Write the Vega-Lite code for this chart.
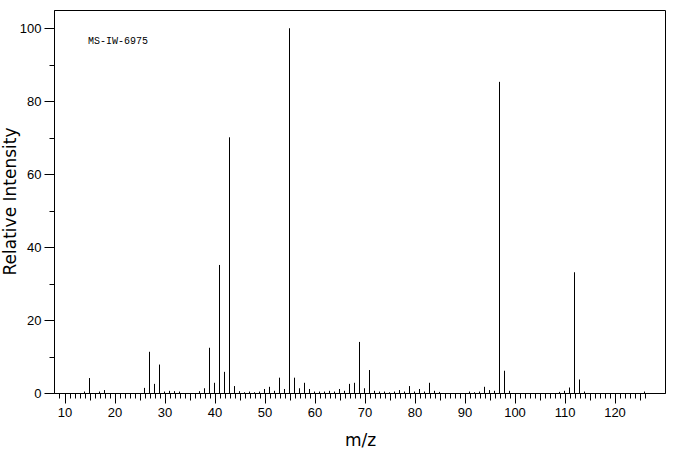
{
  "$schema": "https://vega.github.io/schema/vega-lite/v6.json",
  "width": 611,
  "height": 383,
  "autosize": {"type": "none"},
  "padding": {"left": 54, "top": 10, "right": 11, "bottom": 62},
  "background": "white",
  "config": {
    "view": {"stroke": "black", "strokeWidth": 1},
    "axis": {"grid": false, "domainColor": "black", "tickColor": "black", "labelColor": "black", "titleColor": "black", "labelFont": "Liberation Sans", "titleFont": "DejaVu Sans", "labelFontSize": 13, "titleFontSize": 17, "titleFontWeight": "normal", "domainWidth": 1, "tickWidth": 1}
  },
  "data": {"values": [
    {"mz": 14, "intensity": 0.4}, {"mz": 15, "intensity": 4.1}, {"mz": 17, "intensity": 0.4}, {"mz": 18, "intensity": 0.8},
    {"mz": 26, "intensity": 1.4}, {"mz": 27, "intensity": 11.3}, {"mz": 28, "intensity": 2.5}, {"mz": 29, "intensity": 7.8},
    {"mz": 30, "intensity": 0.4}, {"mz": 31, "intensity": 0.6}, {"mz": 32, "intensity": 0.5}, {"mz": 33, "intensity": 0.4},
    {"mz": 37, "intensity": 0.5}, {"mz": 38, "intensity": 1.3}, {"mz": 39, "intensity": 12.4}, {"mz": 40, "intensity": 2.8},
    {"mz": 41, "intensity": 35.1}, {"mz": 42, "intensity": 5.8}, {"mz": 43, "intensity": 70.1}, {"mz": 44, "intensity": 1.9},
    {"mz": 45, "intensity": 0.5}, {"mz": 46, "intensity": 0.2}, {"mz": 47, "intensity": 0.4}, {"mz": 48, "intensity": 0.2},
    {"mz": 49, "intensity": 0.4}, {"mz": 50, "intensity": 1.1}, {"mz": 51, "intensity": 1.7}, {"mz": 52, "intensity": 0.6},
    {"mz": 53, "intensity": 4.2}, {"mz": 54, "intensity": 1.1}, {"mz": 55, "intensity": 100}, {"mz": 56, "intensity": 4.2},
    {"mz": 57, "intensity": 1.3}, {"mz": 58, "intensity": 2.8}, {"mz": 59, "intensity": 1.1}, {"mz": 60, "intensity": 0.4},
    {"mz": 61, "intensity": 0.4}, {"mz": 62, "intensity": 0.4}, {"mz": 63, "intensity": 0.6}, {"mz": 64, "intensity": 0.4},
    {"mz": 65, "intensity": 1.1}, {"mz": 66, "intensity": 0.6}, {"mz": 67, "intensity": 2.5}, {"mz": 68, "intensity": 2.8},
    {"mz": 69, "intensity": 14.0}, {"mz": 70, "intensity": 1.3}, {"mz": 71, "intensity": 6.3}, {"mz": 72, "intensity": 0.6},
    {"mz": 73, "intensity": 0.4}, {"mz": 74, "intensity": 0.4}, {"mz": 75, "intensity": 0.2}, {"mz": 76, "intensity": 0.4},
    {"mz": 77, "intensity": 0.8}, {"mz": 78, "intensity": 0.4}, {"mz": 79, "intensity": 1.9}, {"mz": 80, "intensity": 0.4},
    {"mz": 81, "intensity": 1.1}, {"mz": 82, "intensity": 0.4}, {"mz": 83, "intensity": 2.8}, {"mz": 84, "intensity": 0.6},
    {"mz": 85, "intensity": 0.3}, {"mz": 91, "intensity": 0.4}, {"mz": 92, "intensity": 0.2}, {"mz": 93, "intensity": 0.4},
    {"mz": 94, "intensity": 1.7}, {"mz": 95, "intensity": 0.8}, {"mz": 96, "intensity": 0.6}, {"mz": 97, "intensity": 85.3},
    {"mz": 98, "intensity": 6.1}, {"mz": 99, "intensity": 0.6}, {"mz": 109, "intensity": 0.3}, {"mz": 110, "intensity": 0.6},
    {"mz": 111, "intensity": 1.5}, {"mz": 112, "intensity": 33.1}, {"mz": 113, "intensity": 3.7}, {"mz": 114, "intensity": 0.4},
    {"mz": 126, "intensity": 0.4}
  ]},
  "resolve": {"axis": {"x": "independent", "y": "independent"}},
  "layer": [
    {
      "mark": {"type": "rule", "color": "black", "strokeWidth": 1},
      "encoding": {
        "x": {"field": "mz", "type": "quantitative", "scale": {"domain": [7.9, 130.1], "nice": false, "zero": false},
          "axis": {"orient": "bottom", "title": "m/z", "values": [10, 20, 30, 40, 50, 60, 70, 80, 90, 100, 110, 120], "tickSize": 10, "labelPadding": 3, "labelFlush": false,
            "titleX": 306, "titleY": 47, "titleAlign": "center", "titleBaseline": "middle", "titleAnchor": null}},
        "y": {"field": "intensity", "type": "quantitative", "scale": {"domain": [0, 105], "nice": false},
          "axis": {"orient": "left", "title": "Relative Intensity", "values": [0, 20, 40, 60, 80, 100], "tickSize": 10, "labelPadding": 3, "labelFlush": false,
            "titleX": -44, "titleY": 191, "titleAngle": -90, "titleAlign": "center", "titleBaseline": "middle", "titleAnchor": null}},
        "y2": {"datum": 0}
      }
    },
    {
      "data": {"values": [{"label": "MS-IW-6975"}]},
      "mark": {"type": "rule", "opacity": 0},
      "encoding": {
        "x": {"datum": 50, "type": "quantitative",
          "axis": {"orient": "bottom", "title": null, "labels": false, "domain": false, "tickSize": 5,
            "values": [9, 11, 12, 13, 14, 16, 17, 18, 19, 21, 22, 23, 24, 26, 27, 28, 29, 31, 32, 33, 34, 36, 37, 38, 39, 41, 42, 43, 44, 46, 47, 48, 49, 51, 52, 53, 54, 56, 57, 58, 59, 61, 62, 63, 64, 66, 67, 68, 69, 71, 72, 73, 74, 76, 77, 78, 79, 81, 82, 83, 84, 86, 87, 88, 89, 91, 92, 93, 94, 96, 97, 98, 99, 101, 102, 103, 104, 106, 107, 108, 109, 111, 112, 113, 114, 116, 117, 118, 119, 121, 122, 123, 124, 126]}},
        "y": {"datum": 10, "type": "quantitative",
          "axis": {"orient": "left", "title": null, "labels": false, "domain": false, "tickSize": 5, "values": [10, 30, 50, 70, 90]}}
      }
    },
    {
      "data": {"values": [{"label": "MS-IW-6975"}]},
      "mark": {"type": "text", "font": "Liberation Mono", "fontSize": 10, "align": "left", "baseline": "middle", "color": "black"},
      "encoding": {
        "x": {"datum": 14.7, "type": "quantitative",
          "axis": {"orient": "bottom", "title": null, "labels": false, "domain": false, "tickSize": 7,
            "values": [15, 25, 35, 45, 55, 65, 75, 85, 95, 105, 115, 125]}},
        "y": {"datum": 96.4, "type": "quantitative", "axis": null},
        "text": {"field": "label"}
      }
    }
  ]
}
